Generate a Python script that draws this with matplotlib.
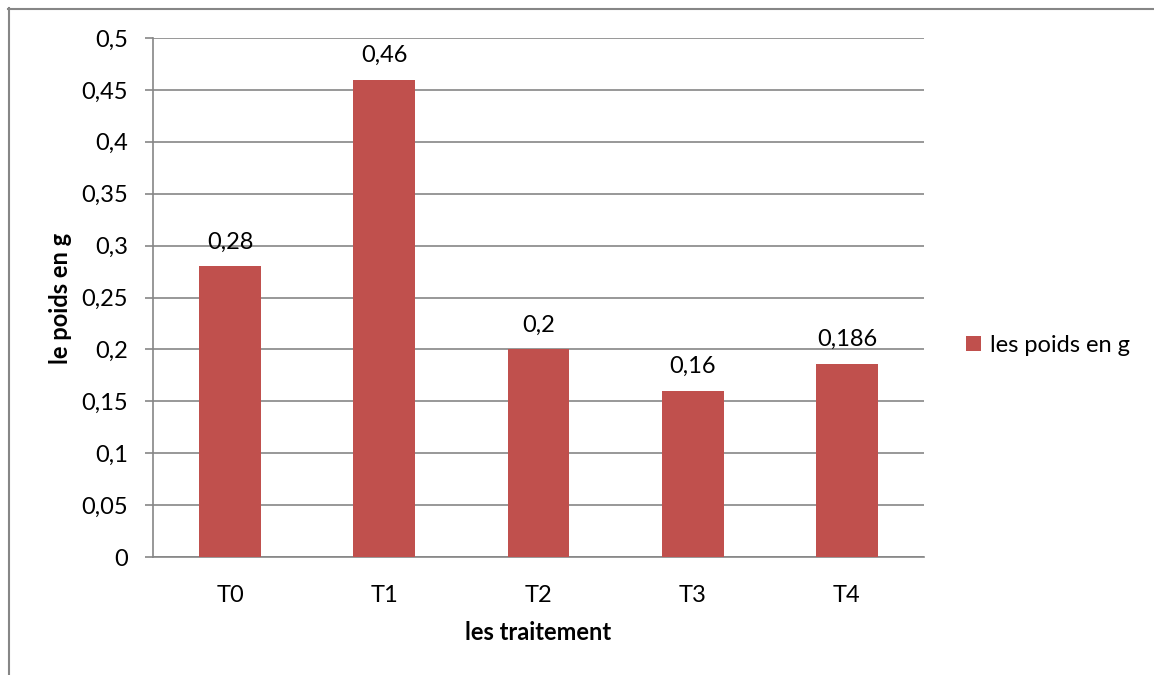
import matplotlib
matplotlib.use("Agg")
import matplotlib.pyplot as plt
from matplotlib.lines import Line2D

categories = ["T0", "T1", "T2", "T3", "T4"]
values = [0.28, 0.46, 0.2, 0.16, 0.186]
value_labels = ["0,28", "0,46", "0,2", "0,16", "0,186"]
yticks = [0, 0.05, 0.1, 0.15, 0.2, 0.25, 0.3, 0.35, 0.4, 0.45, 0.5]
ytick_labels = ["0", "0,05", "0,1", "0,15", "0,2", "0,25", "0,3", "0,35", "0,4", "0,45", "0,5"]
series_name = "les poids en g"
xlabel = "les traitement"
ylabel = "le poids en g"

plt.rcParams['font.family'] = ['Lato', 'DejaVu Sans']
FS = 17
BAR = "#C0504D"
GRID = "#868686"
TXT = "#000000"

W, H = 1154, 675
fig = plt.figure(figsize=(W / 100, H / 100), dpi=100)

# outer chart border
fig.add_artist(Line2D([8.5 / W, 8.5 / W], [0, 1 - 8 / H], color=GRID, lw=1.5, transform=fig.transFigure))
fig.add_artist(Line2D([8 / W, 1], [1 - 8.5 / H, 1 - 8.5 / H], color=GRID, lw=1.5, transform=fig.transFigure))

ax = fig.add_axes([153 / W, (H - 557) / H, (924 - 153) / W, (557 - 38) / H])
x = list(range(len(categories)))
bars = ax.bar(x, values, width=0.4, color=BAR, label=series_name, zorder=3)
ax.set_xlim(-0.5, len(categories) - 0.5)
ax.set_ylim(0, 0.5)
ax.set_yticks(yticks)
ax.set_yticklabels(ytick_labels)
ax.set_xticks(x)
ax.set_xticklabels(categories)
ax.yaxis.grid(True, color=GRID, lw=1.2, zorder=0)
ax.set_axisbelow(True)
for s in ["top", "right"]:
    ax.spines[s].set_visible(False)
ax.spines["left"].set_color(GRID)
ax.spines["bottom"].set_color(GRID)
ax.spines["left"].set_linewidth(1.2)
ax.spines["bottom"].set_linewidth(1.2)
ax.tick_params(axis="y", length=6, color=GRID, width=1.2, pad=12, labelsize=FS, labelcolor=TXT)
ax.tick_params(axis="x", length=0, pad=20, labelsize=FS, labelcolor=TXT)

for xi, v, lab in zip(x, values, value_labels):
    ax.annotate(lab, (xi, v), xytext=(0, 10), textcoords="offset points",
                ha="center", va="bottom", fontsize=FS, color=TXT)

fig.text(538 / W, 1 - 632 / H, xlabel, ha="center", va="center", fontsize=FS, fontweight="bold", color=TXT)
fig.text(61 / W, 1 - 298 / H, ylabel, ha="center", va="center", rotation=90, fontsize=FS, fontweight="bold", color=TXT)

fig.legend(handles=[bars], labels=[series_name], loc="center left",
           bbox_to_anchor=(966 / W, 1 - 345 / H), frameon=False, fontsize=FS,
           handlelength=0.62, handleheight=0.62, handletextpad=0.4,
           borderpad=0, borderaxespad=0)

fig.savefig("out.png", dpi=100)
